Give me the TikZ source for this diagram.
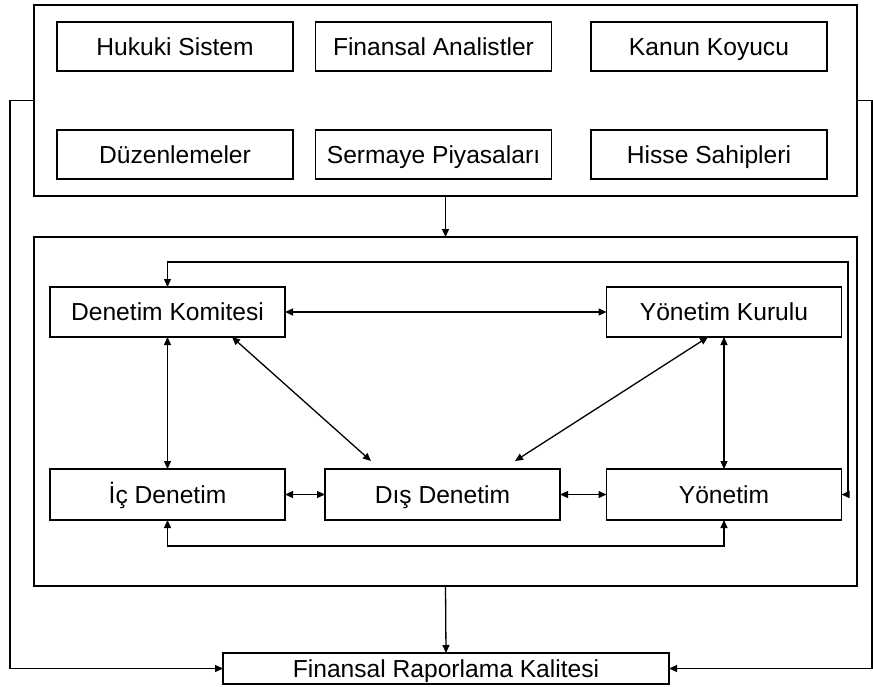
\documentclass[tikz,border=0pt]{standalone}
\usepackage{fontspec}
\setmainfont{Liberation Sans}
\usetikzlibrary{arrows.meta,calc}
\begin{document}
\begin{tikzpicture}[x=1pt,y=-1pt,
  every node/.style={inner sep=0pt,outer sep=0pt,font=\fontsize{24.6}{28}\selectfont},
  box/.style={draw,line width=1.3pt,minimum width=236pt,minimum height=49pt,text height=17.6pt,text depth=0pt},
  frame/.style={draw,line width=1.3pt},
  conn/.style={line width=1.3pt},
  arr/.style={conn,-{Triangle[length=8pt,width=7pt]}},
  dbl/.style={conn,{Triangle[length=8pt,width=7pt]}-{Triangle[length=8pt,width=7pt]}}]
\useasboundingbox (0,0) rectangle (873,686);
% outer frames
\node[frame,minimum width=823pt,minimum height=191pt] (top) at (445.5,100.5) {};
\node[frame,minimum width=823pt,minimum height=349pt] (mid) at (445.5,411.5) {};
% top boxes
\node[box] (hs) at (175,46.5) {Hukuki Sistem};
\node[box] (fa) at (433.5,46.5) {Finansal Analistler};
\node[box] (kk) at (709,46.5) {Kanun Koyucu};
\node[box] (dz) at (175,154.5) {Düzenlemeler};
\node[box] (sp) at (433.5,154.5) {Sermaye Piyasaları};
\node[box] (hsp) at (709,154.5) {Hisse Sahipleri};
% middle boxes
\node[box,minimum width=235pt,minimum height=50pt] (dk) at (167.5,312) {Denetim Komitesi};
\node[box,minimum width=235pt,minimum height=50pt] (yk) at (724,312) {Yönetim Kurulu};
\node[box,minimum width=235pt,minimum height=51pt] (ic) at (167.5,494.5) {İç Denetim};
\node[box,minimum width=235pt,minimum height=51pt] (dis) at (442.5,494.5) {Dış Denetim};
\node[box,minimum width=235pt,minimum height=51pt] (yon) at (724,494.5) {Yönetim};
% bottom box
\node[box,minimum width=446pt,minimum height=31pt] (frk) at (446,668.5) {Finansal Raporlama Kalitesi};
% connectors
\draw[arr] (top.south) -- (mid.north);
\draw[arr] (mid.south) -- (frk.north);
\draw[arr] (top.west) -- (10,100.5) |- (frk.west);
\draw[arr] (top.east) -- (872,100.5) |- (frk.east);
\draw[dbl] (dk.east) -- (yk.west);
\draw[dbl] (ic.east) -- (dis.west);
\draw[dbl] (dis.east) -- (yon.west);
\draw[dbl] (dk.south) -- (ic.north);
\draw[dbl] (yk.south) -- (yon.north);
\draw[dbl] ($(dk.south east)+(-53,0)$) -- ($(dis.north west)+(46,-8)$);
\draw[dbl] ($(yk.south west)+(101.5,0)$) -- ($(dis.north east)+(-45,-8)$);
\draw[dbl] (dk.north) -- (167.5,262) -- (848,262) |- (yon.east);
\draw[dbl] (ic.south) -- (167.5,546) -| (yon.south);
\end{tikzpicture}
\end{document}
